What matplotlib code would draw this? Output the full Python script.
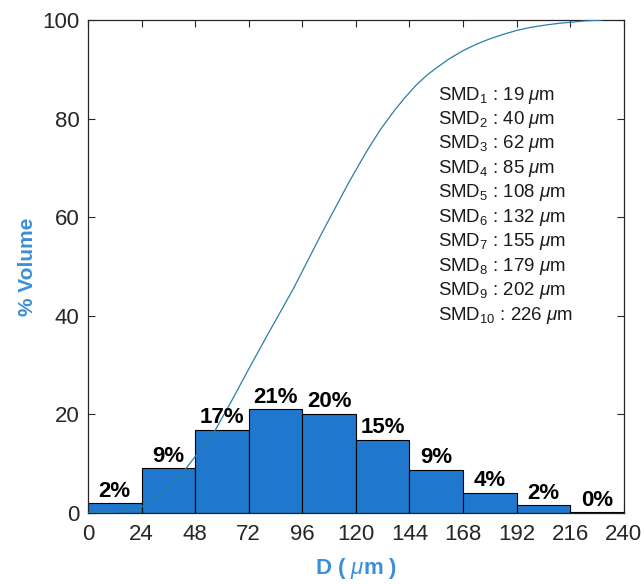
import matplotlib
matplotlib.use("Agg")
import matplotlib.pyplot as plt
import numpy as np

plt.rcParams["font.family"] = ["Liberation Sans", "DejaVu Sans"]
plt.rcParams["mathtext.fontset"] = "custom"
plt.rcParams["mathtext.rm"] = "Liberation Sans"
plt.rcParams["mathtext.it"] = "Liberation Sans:italic"
plt.rcParams["mathtext.bf"] = "Liberation Sans:bold"

# Droplet size bins (um) and volume fraction per bin (%)
bin_edges = [0, 24, 48, 72, 96, 120, 144, 168, 192, 216, 240]
volume_pct = [2.0, 9.1, 16.9, 21.0, 20.1, 14.9, 8.8, 4.1, 1.6, 0.1]

# Cumulative volume curve (%)
cum_d = [0, 6, 12, 18, 23, 30, 36, 44, 50, 57, 65, 72, 80, 92, 105, 117,
         125, 131, 137, 142, 147, 152, 157, 162, 168, 174, 180, 186, 192,
         198, 205, 211, 217, 223, 230]
cum_v = [0, 0.05, 0.2, 0.5, 1.0, 2.8, 5.3, 9.1, 12.6, 16.8, 23.3, 29.2, 35.8,
         45.5, 57.0, 67.2, 73.5, 77.8, 81.5, 84.3, 86.8, 88.9, 90.6, 92.2,
         93.8, 95.1, 96.2, 97.1, 97.9, 98.5, 99.0, 99.35, 99.6, 99.85, 100.0]

# Sauter mean diameters per class
smd_values = [19, 40, 62, 85, 108, 132, 155, 179, 202, 226]

bar_color = "#1f78cd"
label_color = "#3b8fd8"
tick_color = "#262626"

fig = plt.figure(figsize=(6.44, 5.84), dpi=100)
ax = fig.add_axes([0.1366, 0.1216, 0.832, 0.844])

lefts = np.array(bin_edges[:-1])
widths = np.diff(bin_edges)
ax.bar(lefts, volume_pct, width=widths, align="edge", color=bar_color,
       edgecolor="black", linewidth=0.8, zorder=2)

for x0, w, v in zip(lefts, widths, volume_pct):
    ax.text(x0 + w / 2, v + 0.3, f"{v:.0f}%", ha="center", va="bottom",
            fontsize=16, fontweight="bold", color="black", zorder=4)

ax.plot(cum_d, cum_v, color="#2a7fa8", linewidth=0.9, zorder=3)

smd_lines = [rf"SMD$_{{{i + 1}}}$ : {v} $\mu$m" for i, v in enumerate(smd_values)]
for i, line in enumerate(smd_lines):
    ax.text(0.653, 0.848 - i * 0.0496, line, transform=ax.transAxes,
            fontsize=13.4, color="#1a1a1a", ha="left", va="center")

ax.set_xlim(0, 240)
ax.set_ylim(0, 100)
ax.set_xticks(bin_edges)
ax.set_yticks([0, 20, 40, 60, 80, 100])
ax.tick_params(direction="in", length=5, width=0.8, top=True, right=True,
               labelsize=16, colors=tick_color)
ax.tick_params(axis="x", pad=8)
ax.tick_params(axis="y", pad=6)
for s in ax.spines.values():
    s.set_linewidth(0.9)
    s.set_color(tick_color)

ax.set_xlabel(r"D ( $\mu$m )", fontsize=16, fontweight="bold",
              color=label_color, labelpad=8)
ax.set_ylabel("% Volume", fontsize=15, fontweight="bold", color=label_color,
              labelpad=4)

fig.savefig("out.png", dpi=100)
